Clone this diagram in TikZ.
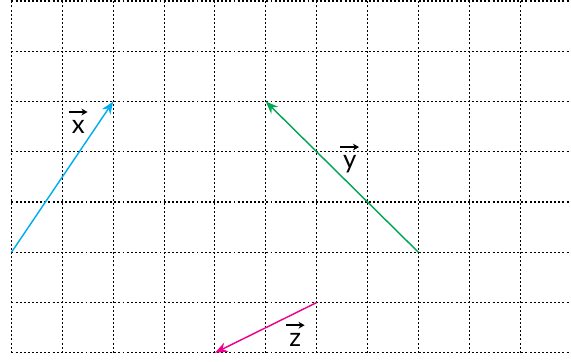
\documentclass[tikz,border=0pt]{standalone}
\usepackage{fontspec}
\setsansfont{Lato}
\usetikzlibrary{arrows.meta}
\definecolor{vecblue}{RGB}{0,174,239}
\definecolor{vecgreen}{RGB}{0,166,81}
\definecolor{vecpink}{RGB}{236,0,140}
\tikzset{
  gridline/.style={black, line width=0.6pt, dash pattern=on 1.1pt off 1.2pt},
  vecline/.style={line width=0.8pt, -{Stealth[length=7pt,width=5.5pt]}},
  veclabel/.style={font=\sffamily\fontsize{14.5}{16}\selectfont, anchor=base, inner sep=0pt},
  labelarrow/.style={black, line width=1.1pt, -{Stealth[length=3.4pt,width=3.8pt]}}
}
\begin{document}
\begin{tikzpicture}[x=1cm,y=0.988cm]
\useasboundingbox (-0.226,-0.165) rectangle (11,7.02);
\foreach \i in {0,...,10}
  \draw[gridline] (\i,0) -- (\i,7.02);
\foreach \j in {0,...,7}
  \draw[gridline] (0,\j) -- (11,\j);
\draw[vecline, vecblue] (0,2) -- (2,5);
\draw[vecline, vecgreen] (8,2) -- (5,5);
\draw[vecline, vecpink] (6,1) -- (4,0);
\node[veclabel] (lx) at (1.312,4.37) {x};
\node[veclabel] (ly) at (6.65,3.672) {y};
\node[veclabel] (lz) at (5.58,0.127) {z};
\foreach \l in {lx,ly,lz}
  \draw[labelarrow] ([xshift=-5.2pt,yshift=4.3pt]\l.north) -- ([xshift=5.2pt,yshift=4.3pt]\l.north);
\end{tikzpicture}
\end{document}
